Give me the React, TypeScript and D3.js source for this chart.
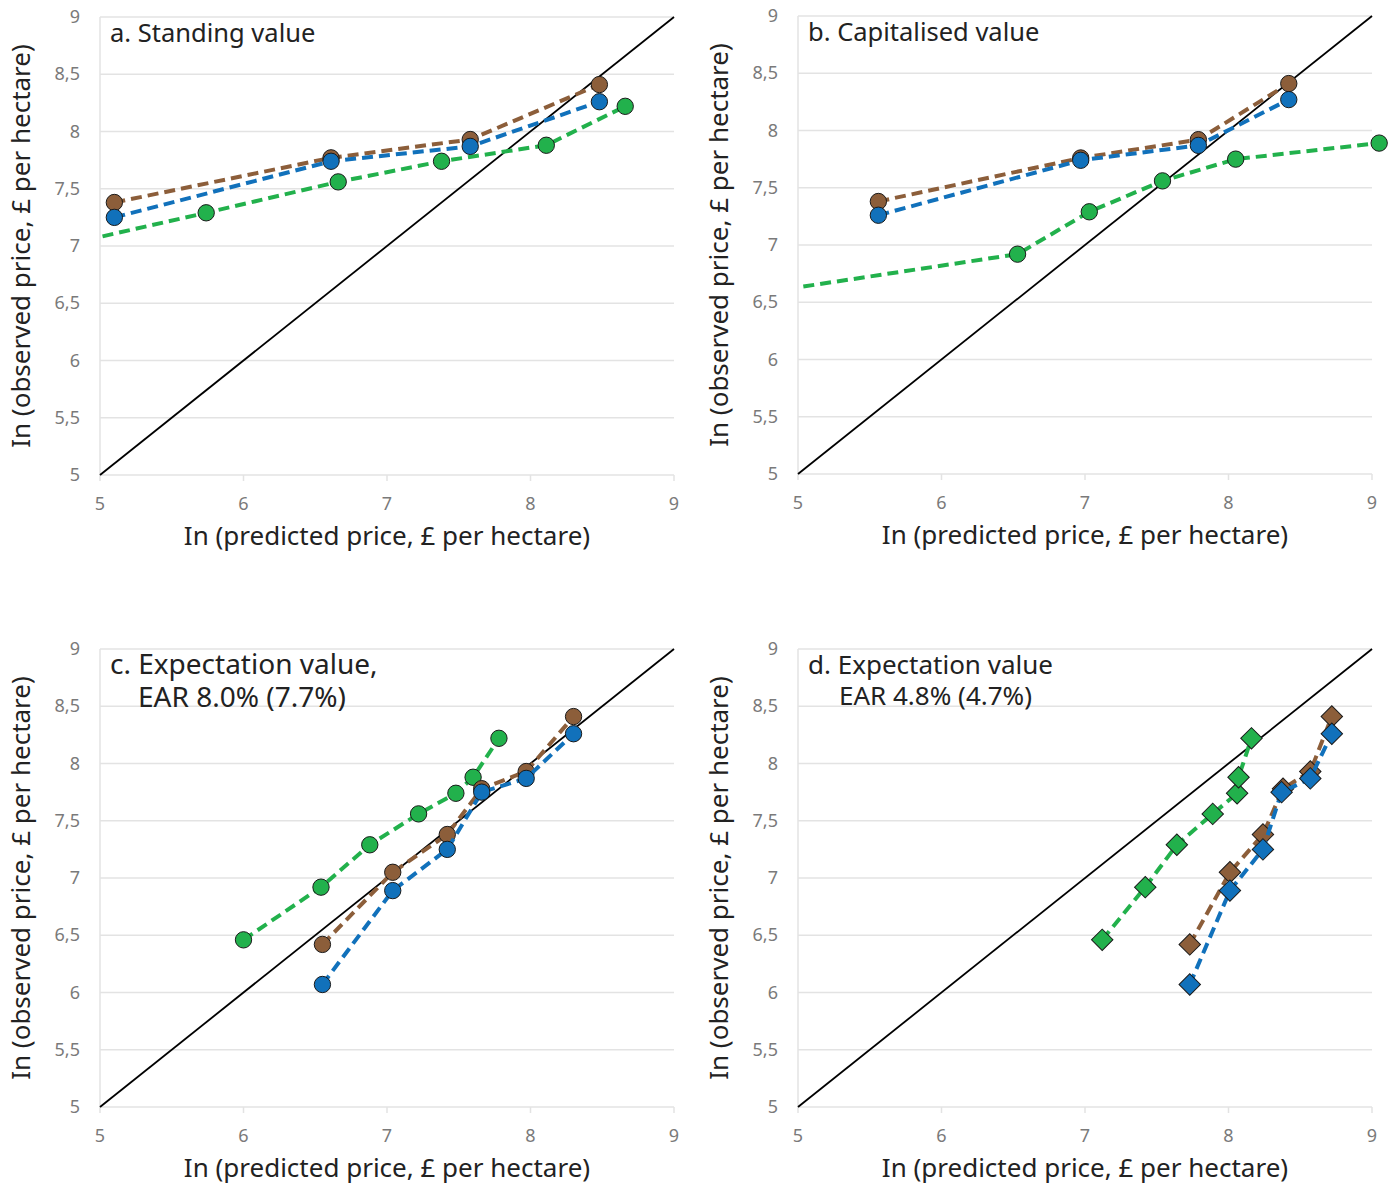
import { useRef, useEffect } from 'react'
import * as d3 from 'd3'

// y values shared by the three groups
const brownY = [6.42, 7.05, 7.38, 7.78, 7.93, 8.41]
const blueY = [6.07, 6.89, 7.25, 7.75, 7.87, 8.26]
const greenY = [6.46, 6.92, 7.29, 7.56, 7.74, 7.88, 8.22]

// a. Standing value
const aBrown = [[5.1, 7.38], [6.61, 7.77], [7.58, 7.93], [8.48, 8.41]]
const aBlue = [[5.1, 7.25], [6.61, 7.74], [7.58, 7.87], [8.48, 8.26]]
const aGreen = [[4.44, 6.92], [5.74, 7.29], [6.66, 7.56], [7.38, 7.74], [8.11, 7.88], [8.66, 8.22]]

// b. Capitalised value
const bBrown = [[5.56, 7.38], [6.97, 7.76], [7.79, 7.92], [8.42, 8.41]]
const bBlue = [[5.56, 7.26], [6.97, 7.74], [7.79, 7.87], [8.42, 8.27]]
const bGreen = [[4.1, 6.46], [6.53, 6.92], [7.03, 7.29], [7.54, 7.56], [8.05, 7.75], [9.05, 7.89]]

// c. Expectation value, EAR 8.0%
const cBrownX = [6.55, 7.04, 7.42, 7.66, 7.97, 8.3]
const cBlueX = [6.55, 7.04, 7.42, 7.66, 7.97, 8.3]
const cGreenX = [6.0, 6.54, 6.88, 7.22, 7.48, 7.6, 7.78]

// d. Expectation value, EAR 4.8%
const dBrownX = [7.73, 8.01, 8.24, 8.38, 8.57, 8.72]
const dBlueX = [7.73, 8.01, 8.24, 8.37, 8.57, 8.72]
const dGreenX = [7.12, 7.42, 7.64, 7.89, 8.06, 8.07, 8.16]

const yTicks = [5, 5.5, 6, 6.5, 7, 7.5, 8, 8.5, 9]
const xTicks = [5, 6, 7, 8, 9]

const BROWN = '#8c5e3a'
const BLUE = '#1171bb'
const GREEN = '#22b14c'

const zip = (xs, ys) => xs.map((x, i) => [x, ys[i]])

const panels = [
  { left: 100, top: 17, title: ['a. Standing value'], size: 25.5, marker: 'circle',
    series: [[aGreen, GREEN], [aBrown, BROWN], [aBlue, BLUE]] },
  { left: 798, top: 16, title: ['b. Capitalised value'], size: 25.5, marker: 'circle',
    series: [[bGreen, GREEN], [bBrown, BROWN], [bBlue, BLUE]] },
  { left: 100, top: 649, title: ['c. Expectation value,', 'EAR 8.0% (7.7%)'], size: 28, indent: 28, gap: 33, marker: 'circle',
    series: [[zip(cGreenX, greenY), GREEN], [zip(cBrownX, brownY), BROWN], [zip(cBlueX, blueY), BLUE]] },
  { left: 798, top: 649, title: ['d. Expectation value', 'EAR 4.8% (4.7%)'], size: 26, indent: 31, gap: 31, marker: 'diamond',
    series: [[zip(dGreenX, greenY), GREEN], [zip(dBrownX, brownY), BROWN], [zip(dBlueX, blueY), BLUE]] },
]

const App = () => {
  const chartRef = useRef()

  useEffect(() => {
    drawChart()
  }, [])

  const drawChart = () => {
    const svg = d3.select(chartRef.current)
    svg.selectAll('*').remove()
    const font = "'Noto Sans', 'Open Sans', sans-serif"
    const W = 574
    const H = 458

    panels.forEach((p, pi) => {
      const g = svg.append('g').attr('transform', `translate(${p.left},${p.top})`)
      const x = d3.scaleLinear().domain([5, 9]).range([0, W])
      const y = d3.scaleLinear().domain([5, 9]).range([H, 0])

      const clipId = `clip${pi}`
      g.append('clipPath').attr('id', clipId)
        .append('rect').attr('x', 0).attr('y', -20).attr('width', W + 40).attr('height', H + 40)

      // gridlines
      g.selectAll('.grid').data(yTicks).enter().append('line')
        .attr('x1', 0).attr('x2', W)
        .attr('y1', (d) => y(d)).attr('y2', (d) => y(d))
        .attr('stroke', '#e3e3e3').attr('stroke-width', 1.5)
      g.append('line').attr('x1', 0).attr('x2', 0).attr('y1', 0).attr('y2', H)
        .attr('stroke', '#e3e3e3').attr('stroke-width', 1.5)

      // x axis ticks
      g.selectAll('.xt').data(xTicks).enter().append('line')
        .attr('x1', (d) => x(d)).attr('x2', (d) => x(d))
        .attr('y1', H).attr('y2', H + 6)
        .attr('stroke', '#e3e3e3').attr('stroke-width', 1.5)
      g.selectAll('.xl').data(xTicks).enter().append('text')
        .attr('x', (d) => x(d)).attr('y', H + 35)
        .attr('text-anchor', 'middle')
        .attr('font-family', font).attr('font-size', 18).attr('fill', '#7a7a7a')
        .text((d) => d)
      g.selectAll('.yl').data(yTicks).enter().append('text')
        .attr('x', -20).attr('y', (d) => y(d) + 6)
        .attr('text-anchor', 'end')
        .attr('font-family', font).attr('font-size', 18).attr('fill', '#7a7a7a')
        .text((d) => String(d).replace('.', ','))

      // axis titles
      g.append('text')
        .attr('x', W / 2).attr('y', H + 70)
        .attr('text-anchor', 'middle')
        .attr('font-family', font).attr('font-size', 26).attr('fill', '#222')
        .text('In (predicted price, £ per hectare)')
      g.append('text')
        .attr('transform', `translate(-70,${H / 2}) rotate(-90)`)
        .attr('text-anchor', 'middle')
        .attr('font-family', font).attr('font-size', 26).attr('fill', '#222')
        .text('In (observed price, £ per hectare)')

      // 45 degree line
      g.append('line')
        .attr('x1', x(5)).attr('y1', y(5)).attr('x2', x(9)).attr('y2', y(9))
        .attr('stroke', '#000').attr('stroke-width', 1.8)

      const line = d3.line().x((d) => x(d[0])).y((d) => y(d[1]))
      const symbol = d3.symbol().type(p.marker === 'diamond' ? d3.symbolSquare : d3.symbolCircle)
        .size(p.marker === 'diamond' ? 230 : 210)

      p.series.forEach(([data, color]) => {
        const s = g.append('g').attr('clip-path', `url(#${clipId})`)
        s.append('path').datum(data)
          .attr('d', line)
          .attr('fill', 'none').attr('stroke', color)
          .attr('stroke-width', 4).attr('stroke-dasharray', '11,6')
        s.selectAll('.m').data(data).enter().append('path')
          .attr('d', symbol)
          .attr('transform', (d) => `translate(${x(d[0])},${y(d[1])})${p.marker === 'diamond' ? ' rotate(45)' : ''}`)
          .attr('fill', color).attr('stroke', '#1a1a1a').attr('stroke-width', 1)
      })

      // panel title
      const t = g.append('text')
        .attr('font-family', font).attr('font-size', p.size).attr('fill', '#222')
      p.title.forEach((line, i) => {
        t.append('tspan')
          .attr('x', i === 0 ? 10 : 10 + p.indent)
          .attr('y', 25 + i * (p.gap || 32))
          .text(line)
      })
    })
  }

  return (
    <svg ref={chartRef} width={1397} height={1185}
      style={{ position: 'absolute', left: 0, top: 0, background: '#fff' }}></svg>
  )
}

export default App
